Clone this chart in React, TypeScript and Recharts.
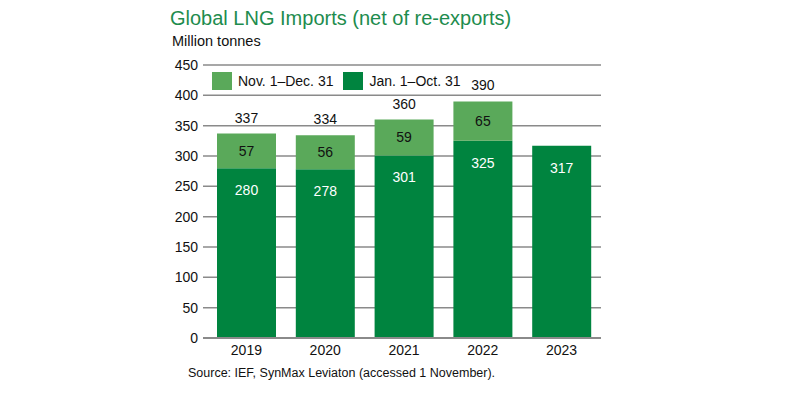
import React from "react";
import { BarChart, Bar, XAxis, YAxis, CartesianGrid, LabelList } from "recharts";

const years = ["2019", "2020", "2021", "2022", "2023"];
const janOct = [280, 278, 301, 325, 317];
const novDec: (number | null)[] = [57, 56, 59, 65, null];
const totals: (number | null)[] = [337, 334, 360, 390, null];
const yTicks = [0, 50, 100, 150, 200, 250, 300, 350, 400, 450];

const DARK = "#00843f";
const LIGHT = "#5aa95a";
const FONT = "'Liberation Sans', Arial, Helvetica, sans-serif";

const data = years.map((y, i) => ({ year: y, janOct: janOct[i], novDec: novDec[i], total: totals[i] }));

export default function App() {
  return (
    <div style={{ position: "absolute", left: 0, top: 0, width: 800, height: 394, background: "#fff", fontFamily: FONT }}>
      <div style={{ position: "absolute", left: 170, top: 7, fontSize: 20, color: "#1e8c4e", whiteSpace: "nowrap" }}>
        Global LNG Imports (net of re-exports)
      </div>
      <div style={{ position: "absolute", left: 172, top: 33, fontSize: 14.5, color: "#111", whiteSpace: "nowrap" }}>
        Million tonnes
      </div>
      <BarChart width={800} height={394} data={data} margin={{ top: 65, right: 199, bottom: 26, left: 0 }} style={{ fontFamily: FONT }}>
        <CartesianGrid vertical={false} stroke="#8a8a8a" strokeWidth={1.5} />
        <XAxis dataKey="year" height={30} axisLine={{ stroke: "#8a8a8a", strokeWidth: 2 }} tickLine={false} tickSize={0} tickMargin={7}
          padding={{ left: 4, right: 0 }} tick={{ fill: "#111", fontSize: 14 }} />
        <YAxis width={203} domain={[0, 450]} ticks={yTicks} axisLine={false} tickLine={false} tickSize={0} tickMargin={5}
          tick={{ fill: "#111", fontSize: 14 }} />
        <Bar dataKey="janOct" stackId="a" fill={DARK} barSize={59} isAnimationActive={false}>
          <LabelList dataKey="janOct" position="insideTop" offset={17} fill="#fff" fontSize={14} />
        </Bar>
        <Bar dataKey="novDec" stackId="a" fill={LIGHT} barSize={59} isAnimationActive={false}>
          <LabelList dataKey="novDec" position="center" fill="#111" fontSize={14} />
          <LabelList dataKey="total" position="top" offset={11} fill="#111" fontSize={14} />
        </Bar>
      </BarChart>
      <div style={{ position: "absolute", left: 212, top: 72, display: "flex", alignItems: "center", fontSize: 14, color: "#111", whiteSpace: "nowrap" }}>
        <span style={{ display: "inline-block", width: 20, height: 18, background: LIGHT, marginRight: 6 }} />
        <span>Nov. 1–Dec. 31</span>
        <span style={{ display: "inline-block", width: 20, height: 18, background: DARK, marginLeft: 10, marginRight: 6 }} />
        <span>Jan. 1–Oct. 31</span>
      </div>
      <div style={{ position: "absolute", left: 188, top: 366, fontSize: 12.5, color: "#111", whiteSpace: "nowrap" }}>
        Source: IEF, SynMax Leviaton (accessed 1 November).
      </div>
    </div>
  );
}
